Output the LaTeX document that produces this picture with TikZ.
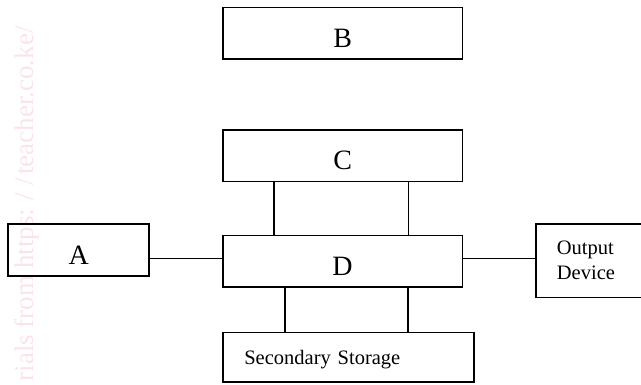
\documentclass[tikz,border=0pt]{standalone}
\usepackage{fontspec}
\setmainfont{Liberation Serif}
\definecolor{wmpink}{RGB}{251,228,233}
\begin{document}
\begin{tikzpicture}[x=1pt,y=-1pt,
  box/.style={draw, line width=1.7pt, inner sep=0pt, rectangle},
  letterbox/.style={box, minimum width=239.6pt, minimum height=51.5pt,
    text height=28.4pt, text depth=0pt, font=\fontsize{28}{33}\selectfont},
  wire/.style={line width=1.3pt},
  smalltext/.style={font=\fontsize{20.5}{24.7}\selectfont}]
\useasboundingbox (0,0) rectangle (641,384);
\clip (0,0) rectangle (641,384);
% watermark
\node[rotate=90, anchor=base west, text=wmpink, inner sep=0pt,
  font=\fontsize{27}{30}\selectfont] (wm) at (33.5,381.5)
  {rials from https:\hspace{8pt}/\hspace{8pt}/\hspace{3pt}teacher.co.ke/};
% boxes
\node[letterbox] (B) at (342.6,33.2) {B};
\node[letterbox] (C) at (342.6,155.6) {C};
\node[letterbox] (D) at (342.6,261.3) {D};
\node[letterbox, minimum width=141pt] (A) at (78.8,250) {A};
\node[box, minimum width=124pt, minimum height=73.2pt] (O) at (598,260.9) {};
\node[anchor=base west, inner sep=0pt, smalltext] (Otxt) at (556.7,279)
  {\parbox[b]{70pt}{\fontsize{20.5}{24.7}\selectfont Output\\Device}};
\node[box, minimum width=250.7pt, minimum height=49.5pt, inner xsep=21pt,
  text width=208.7pt, align=left, text height=15.4pt, text depth=0pt, smalltext]
  (S) at (348.65,357.25) {Secondary Storage};
% connector positions
\coordinate (x1) at (274,0);
\coordinate (x2) at (408.3,0);
\coordinate (x3) at (285,0);
\coordinate (x4) at (408,0);
\coordinate (yl) at (0,258.3);
\draw[wire] (C.south -| x1) -- (D.north -| x1);
\draw[wire] (C.south -| x2) -- (D.north -| x2);
\draw[wire] (D.south -| x3) -- (S.north -| x3);
\draw[wire] (D.south -| x4) -- (S.north -| x4);
\draw[wire] (A.east |- yl) -- (D.west |- yl);
\draw[wire] (D.east |- yl) -- (O.west |- yl);
\end{tikzpicture}
\end{document}
